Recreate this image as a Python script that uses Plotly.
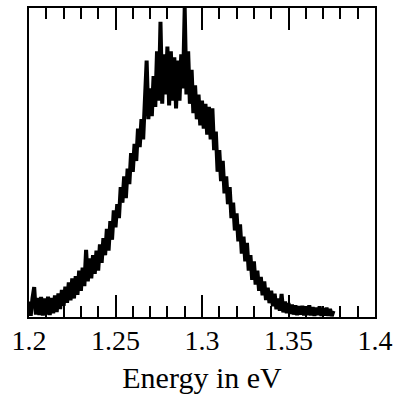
import plotly.graph_objects as go

E_START = 1.200
E_STEP = 0.001
intensity = [
    0.050, 0.004, 0.060, 0.097, 0.008,
    0.062, 0.006, 0.065, 0.005, 0.060,
    0.008, 0.066, 0.006, 0.062, 0.012,
    0.070, 0.016, 0.076, 0.026, 0.088,
    0.036, 0.098, 0.046, 0.112, 0.054,
    0.125, 0.060, 0.132, 0.072, 0.150,
    0.085, 0.160, 0.100, 0.217, 0.115,
    0.190, 0.125, 0.200, 0.140, 0.215,
    0.150, 0.235, 0.175, 0.255, 0.200,
    0.285, 0.215, 0.310, 0.250, 0.345,
    0.290, 0.365, 0.320, 0.420, 0.370,
    0.455, 0.385, 0.480, 0.430, 0.530,
    0.470, 0.560, 0.505, 0.610, 0.550,
    0.640, 0.575, 0.690, 0.830, 0.640,
    0.740, 0.650, 0.780, 0.680, 0.860,
    0.700, 0.955, 0.690, 0.850, 0.720,
    0.875, 0.685, 0.860, 0.700, 0.840,
    0.675, 0.830, 0.700, 0.850, 0.740,
    1.000, 0.720, 0.860, 0.690, 0.800,
    0.660, 0.750, 0.640, 0.720, 0.620,
    0.700, 0.610, 0.690, 0.590, 0.680,
    0.575, 0.675, 0.540, 0.600, 0.470,
    0.540, 0.440, 0.505, 0.400, 0.455,
    0.365, 0.420, 0.320, 0.370, 0.280,
    0.335, 0.245, 0.300, 0.205, 0.260,
    0.180, 0.240, 0.150, 0.200, 0.120,
    0.180, 0.105, 0.150, 0.085, 0.130,
    0.070, 0.115, 0.055, 0.095, 0.045,
    0.085, 0.035, 0.075, 0.025, 0.060,
    0.020, 0.075, 0.015, 0.050, 0.012,
    0.045, 0.010, 0.040, 0.008, 0.038,
    0.006, 0.035, 0.008, 0.036, 0.005,
    0.034, 0.006, 0.038, 0.005, 0.032,
    0.004, 0.030, 0.006, 0.034, 0.004,
    0.028, 0.005, 0.030, 0.004, 0.026,
    0.003, 0.020,
]
energy = [round(E_START + i * E_STEP, 3) for i in range(len(intensity))]

tick_vals = [1.2, 1.25, 1.3, 1.35, 1.4]
tick_text = ["1.2", "1.25", "1.3", "1.35", "1.4"]
x_title = "Energy in eV"

fig = go.Figure()
fig.add_trace(go.Scatter(x=energy, y=intensity, mode="lines",
                         line=dict(color="black", width=4),
                         showlegend=False, hoverinfo="skip"))

FAMILY = "Liberation Serif, serif"
font = dict(family=FAMILY, size=28, color="black")
title_font = dict(family=FAMILY, size=30, color="black")
fig.update_layout(
    width=398, height=398,
    margin=dict(l=29, r=23, t=8, b=81),
    paper_bgcolor="white", plot_bgcolor="white",
    font=font,
    xaxis=dict(range=[1.2, 1.4], tickmode="array", tickvals=tick_vals, ticktext=tick_text,
               ticks="inside", ticklen=22, tickwidth=1.5, tickcolor="black",
               minor=dict(dtick=0.01, tick0=1.2, ticks="inside", ticklen=11, tickwidth=1.5, tickcolor="black", showgrid=False),
               showline=True, linecolor="black", linewidth=1.8, mirror="ticks",
               showgrid=False, zeroline=False, tickfont=font, automargin=False,
               ticklabelstandoff=-3,
               title=dict(text=x_title, font=title_font, standoff=12)),
    yaxis=dict(range=[0, 1.0], showticklabels=False, ticks="", showline=True, automargin=False,
               linecolor="black", linewidth=1.8, mirror=True, showgrid=False, zeroline=False),
)
fig.write_html("out.html", config={"displayModeBar": False},
               post_script="document.body.style.margin='0';")
